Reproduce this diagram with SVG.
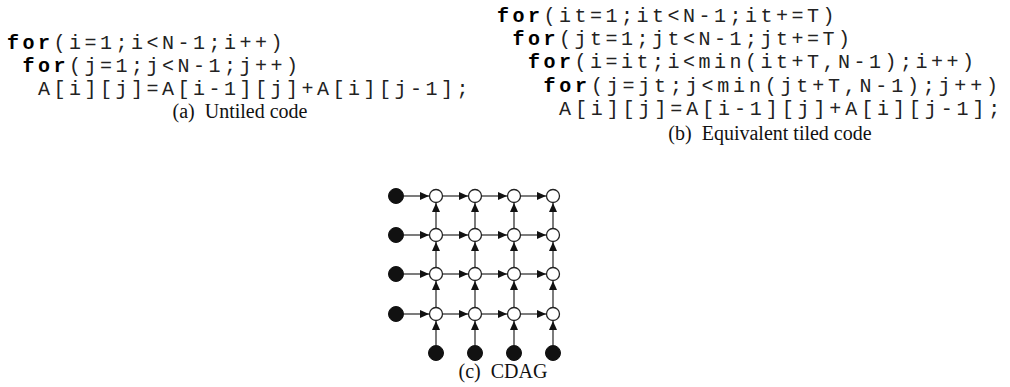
<svg xmlns="http://www.w3.org/2000/svg" width="1010" height="387" viewBox="0 0 1010 387">
<style>
.code{font-family:"Liberation Mono","Courier New",monospace;font-size:20px;letter-spacing:3.5px;fill:#222;}
.kw{font-weight:bold;fill:#000;}
.cap{font-family:"Liberation Serif","Times New Roman",serif;font-size:20px;fill:#111;text-anchor:middle;}
.src{fill:#111;stroke:#111;stroke-width:1;}
.op{fill:#fff;stroke:#222;stroke-width:1.3;}
.e{stroke:#444;stroke-width:1.4;fill:none;marker-end:url(#ah);}
</style>
<defs>
<marker id="ah" markerUnits="userSpaceOnUse" markerWidth="10" markerHeight="8" refX="9" refY="4" orient="auto">
<path d="M0,0 L9,4 L0,8 z" fill="#111"/>
</marker>
</defs>
<rect width="1010" height="387" fill="#fff"/>
<g id="code-a">
<text class="code" x="7" y="49" xml:space="preserve"><tspan class="kw">for</tspan>(i=1;i&lt;N-1;i++)</text>
<text class="code" x="22.5" y="72" xml:space="preserve"><tspan class="kw">for</tspan>(j=1;j&lt;N-1;j++)</text>
<text class="code" x="38" y="95">A[i][j]=A[i-1][j]+A[i][j-1];</text>
<text class="cap" x="240" y="118" xml:space="preserve">(a)  Untiled code</text>
</g>
<g id="code-b">
<text class="code" x="497" y="22" xml:space="preserve"><tspan class="kw">for</tspan>(it=1;it&lt;N-1;it+=T)</text>
<text class="code" x="512.5" y="45" xml:space="preserve"><tspan class="kw">for</tspan>(jt=1;jt&lt;N-1;jt+=T)</text>
<text class="code" x="528" y="68" xml:space="preserve"><tspan class="kw">for</tspan>(i=it;i&lt;min(it+T,N-1);i++)</text>
<text class="code" x="543.5" y="92" style="letter-spacing:3.8px" xml:space="preserve"><tspan class="kw">for</tspan>(j=jt;j&lt;min(jt+T,N-1);j++)</text>
<text class="code" x="559" y="115" style="letter-spacing:3.9px">A[i][j]=A[i-1][j]+A[i][j-1];</text>
<text class="cap" x="770" y="140" xml:space="preserve">(b)  Equivalent tiled code</text>
</g>
<g id="connectors">
<line class="e" x1="404" y1="196" x2="429" y2="196"/>
<line class="e" x1="404" y1="235" x2="429" y2="235"/>
<line class="e" x1="404" y1="274" x2="429" y2="274"/>
<line class="e" x1="404" y1="314" x2="429" y2="314"/>
<line class="e" x1="443" y1="196" x2="468" y2="196"/>
<line class="e" x1="482" y1="196" x2="507" y2="196"/>
<line class="e" x1="521" y1="196" x2="546" y2="196"/>
<line class="e" x1="443" y1="235" x2="468" y2="235"/>
<line class="e" x1="482" y1="235" x2="507" y2="235"/>
<line class="e" x1="521" y1="235" x2="546" y2="235"/>
<line class="e" x1="443" y1="274" x2="468" y2="274"/>
<line class="e" x1="482" y1="274" x2="507" y2="274"/>
<line class="e" x1="521" y1="274" x2="546" y2="274"/>
<line class="e" x1="443" y1="314" x2="468" y2="314"/>
<line class="e" x1="482" y1="314" x2="507" y2="314"/>
<line class="e" x1="521" y1="314" x2="546" y2="314"/>
<line class="e" x1="436" y1="228" x2="436" y2="203"/>
<line class="e" x1="475" y1="228" x2="475" y2="203"/>
<line class="e" x1="514" y1="228" x2="514" y2="203"/>
<line class="e" x1="553" y1="228" x2="553" y2="203"/>
<line class="e" x1="436" y1="267" x2="436" y2="242"/>
<line class="e" x1="475" y1="267" x2="475" y2="242"/>
<line class="e" x1="514" y1="267" x2="514" y2="242"/>
<line class="e" x1="553" y1="267" x2="553" y2="242"/>
<line class="e" x1="436" y1="307" x2="436" y2="281"/>
<line class="e" x1="475" y1="307" x2="475" y2="281"/>
<line class="e" x1="514" y1="307" x2="514" y2="281"/>
<line class="e" x1="553" y1="307" x2="553" y2="281"/>
<line class="e" x1="436" y1="345" x2="436" y2="321"/>
<line class="e" x1="475" y1="345" x2="475" y2="321"/>
<line class="e" x1="514" y1="345" x2="514" y2="321"/>
<line class="e" x1="553" y1="345" x2="553" y2="321"/>
</g>
<g id="inputs">
<circle id="in-r1" class="src" cx="396" cy="196" r="7.5"/>
<circle id="in-r2" class="src" cx="396" cy="235" r="7.5"/>
<circle id="in-r3" class="src" cx="396" cy="274" r="7.5"/>
<circle id="in-r4" class="src" cx="396" cy="314" r="7.5"/>
<circle id="in-c1" class="src" cx="436" cy="353" r="7.5"/>
<circle id="in-c2" class="src" cx="475" cy="353" r="7.5"/>
<circle id="in-c3" class="src" cx="514" cy="353" r="7.5"/>
<circle id="in-c4" class="src" cx="553" cy="353" r="7.5"/>
</g>
<g id="ops">
<circle id="n11" class="op" cx="436" cy="196" r="6.5"/>
<circle id="n12" class="op" cx="475" cy="196" r="6.5"/>
<circle id="n13" class="op" cx="514" cy="196" r="6.5"/>
<circle id="n14" class="op" cx="553" cy="196" r="6.5"/>
<circle id="n21" class="op" cx="436" cy="235" r="6.5"/>
<circle id="n22" class="op" cx="475" cy="235" r="6.5"/>
<circle id="n23" class="op" cx="514" cy="235" r="6.5"/>
<circle id="n24" class="op" cx="553" cy="235" r="6.5"/>
<circle id="n31" class="op" cx="436" cy="274" r="6.5"/>
<circle id="n32" class="op" cx="475" cy="274" r="6.5"/>
<circle id="n33" class="op" cx="514" cy="274" r="6.5"/>
<circle id="n34" class="op" cx="553" cy="274" r="6.5"/>
<circle id="n41" class="op" cx="436" cy="314" r="6.5"/>
<circle id="n42" class="op" cx="475" cy="314" r="6.5"/>
<circle id="n43" class="op" cx="514" cy="314" r="6.5"/>
<circle id="n44" class="op" cx="553" cy="314" r="6.5"/>
</g>
<g id="caption-c">
<text class="cap" x="503" y="378" xml:space="preserve">(c)  CDAG</text>
</g>
</svg>
